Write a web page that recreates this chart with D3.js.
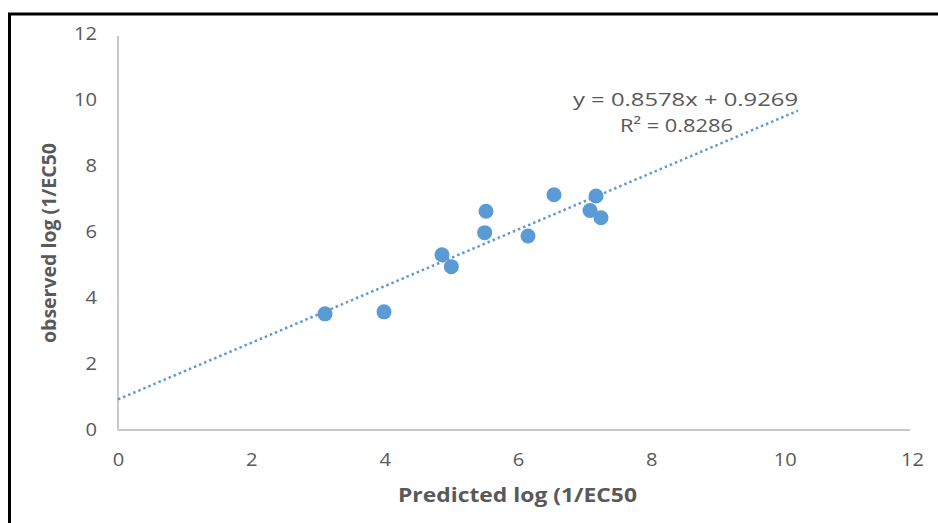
<!DOCTYPE html>
<html><head><meta charset="utf-8">
<script src="https://cdn.jsdelivr.net/npm/d3@7"></script>
<style>
html,body{margin:0;padding:0;background:#fff;}
svg{display:block;}
text{font-family:"Open Sans","Noto Sans",sans-serif;}
</style></head>
<body>
<script>
const predicted = [3.105, 3.99, 4.86, 5.0, 5.52, 5.50, 6.15, 6.54, 7.17, 7.08, 7.245];
const observed  = [3.52, 3.58, 5.31, 4.95, 6.63, 5.98, 5.88, 7.13, 7.09, 6.65, 6.43];
const xTicks = [0, 2, 4, 6, 8, 10, 12];
const yTicks = [0, 2, 4, 6, 8, 10, 12];
const slope = 0.8578, intercept = 0.9269;
const trendRange = [0, 10.2];
const eqText = "y = 0.8578x + 0.9269";
const r2Text = "R² = 0.8286";

const W = 938, H = 523;
const svg = d3.select("body").append("svg").attr("width", W).attr("height", H);

// outer border (clipped on right/bottom)
svg.append("rect").attr("x", 9.5).attr("y", 14).attr("width", 1000).attr("height", 600)
  .attr("fill", "none").attr("stroke", "#000").attr("stroke-width", 3);

const x = d3.scaleLinear().domain([0, 12]).range([118, 918]);
const y = d3.scaleLinear().domain([0, 12]).range([430, 34]);

const gray = "#595959";
svg.append("line").attr("x1", x(0)).attr("x2", x(0)).attr("y1", y(12) + 2).attr("y2", y(0))
  .attr("stroke", "#c8c8c8").attr("stroke-width", 2);
svg.append("line").attr("x1", x(0)).attr("x2", x(12) - 8).attr("y1", y(0)).attr("y2", y(0))
  .attr("stroke", "#c8c8c8").attr("stroke-width", 2);

const xAxis = svg.append("g").attr("transform", `translate(0,${y(0)})`)
  .call(d3.axisBottom(x).tickValues(xTicks).tickSize(0).tickPadding(23).tickFormat(d3.format("d")));
const yAxis = svg.append("g").attr("transform", `translate(${x(0)},0)`)
  .call(d3.axisLeft(y).tickValues(yTicks).tickSize(0).tickPadding(21).tickFormat(d3.format("d")));
[xAxis, yAxis].forEach(g => {
  g.select(".domain").remove();
  g.selectAll("text").attr("fill", gray).style("font-size", "18px")
    .style("font-family", '"Open Sans","Noto Sans",sans-serif')
    .attr("textLength", d => String(d).length * 11.5).attr("lengthAdjust", "spacingAndGlyphs");
});
xAxis.selectAll("text").filter(d => d === 12).attr("dx", "-6");

// trendline
svg.append("line")
  .attr("x1", x(trendRange[0])).attr("y1", y(slope * trendRange[0] + intercept))
  .attr("x2", x(trendRange[1])).attr("y2", y(slope * trendRange[1] + intercept))
  .attr("stroke", "#5b9bd5").attr("stroke-width", 2.5)
  .attr("stroke-dasharray", "2.5,3").attr("stroke-linecap", "butt");

// points
svg.append("g").selectAll("circle").data(predicted.map((p, i) => [p, observed[i]]))
  .join("circle").attr("cx", d => x(d[0])).attr("cy", d => y(d[1])).attr("r", 7.5)
  .attr("fill", "#5b9bd5");

// equation
svg.append("text").attr("x", 573).attr("y", 106)
  .attr("fill", gray).style("font-size", "18px")
  .attr("textLength", 225).attr("lengthAdjust", "spacingAndGlyphs").text(eqText);
svg.append("text").attr("x", 620).attr("y", 132)
  .attr("fill", gray).style("font-size", "18px")
  .attr("textLength", 113).attr("lengthAdjust", "spacingAndGlyphs").text(r2Text);

// axis titles
svg.append("text").attr("x", 398).attr("y", 502)
  .attr("fill", gray).style("font-size", "20px").style("font-weight", "bold")
  .attr("textLength", 239).attr("lengthAdjust", "spacingAndGlyphs")
  .text("Predicted log (1/EC50");
svg.append("text").attr("transform", "translate(56,343) rotate(-90)")
  .attr("fill", gray).style("font-size", "19px").style("font-weight", "bold")
  .attr("textLength", 200).attr("lengthAdjust", "spacingAndGlyphs")
  .text("observed log (1/EC50");
</script>
</body></html>
